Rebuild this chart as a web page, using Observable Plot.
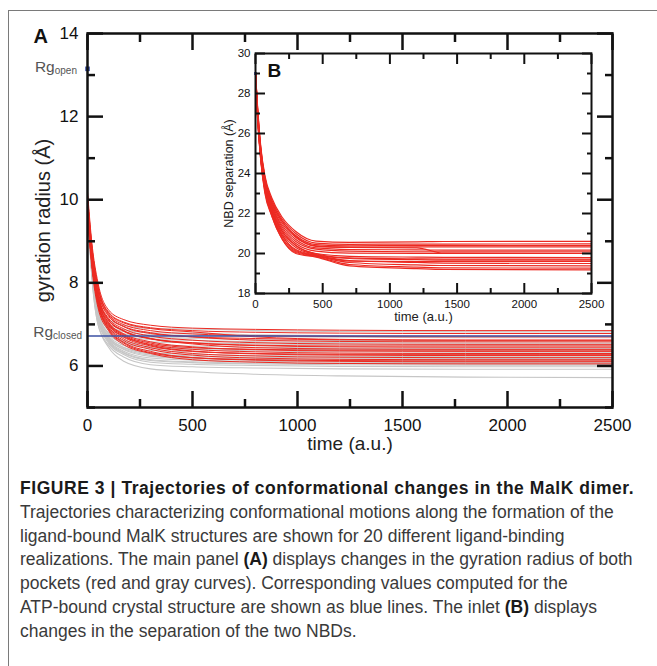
<!DOCTYPE html>
<html><head><meta charset="utf-8">
<script src="https://cdn.jsdelivr.net/npm/d3@7"></script>
<script src="https://cdn.jsdelivr.net/npm/@observablehq/plot@0.6"></script>
<style>
body{margin:0;background:#fff;}
#wrap{position:relative;width:657px;height:666px;overflow:hidden;font-family:"Liberation Sans",Arial,sans-serif;background:#fff;}
#frameTop{position:absolute;left:8px;top:10px;width:700px;height:0;border-top:1.5px solid #7a7a7a;}
#frameLeft{position:absolute;left:8px;top:10px;width:0;height:700px;border-left:1.5px solid #7a7a7a;}
#main{position:absolute;left:0;top:0;}
#inset{position:absolute;left:195px;top:40px;}
.rg{position:absolute;color:#555;font-size:15.5px;line-height:16px;text-align:right;white-space:nowrap;}
.rg sub{font-size:10px;vertical-align:baseline;position:relative;top:2px;}
#caption{position:absolute;left:20px;top:477px;font-family:"Liberation Sans",Arial,sans-serif;font-size:17.5px;line-height:23.8px;color:#3a3a3a;white-space:nowrap;}
#caption b{color:#1a1a1a;}
#caption b.head{letter-spacing:0.55px;}
</style></head>
<body><div id="wrap"><div id="frameTop"></div><div id="frameLeft"></div>
<div id="main"></div><div id="inset"></div>
<div id="caption"><b class="head">FIGURE 3 | Trajectories of conformational changes in the MalK dimer.</b><br>Trajectories characterizing conformational motions along the formation of the<br>ligand-bound MalK structures are shown for 20 different ligand-binding<br>realizations. The main panel <b>(A)</b> displays changes in the gyration radius of both<br>pockets (red and gray curves). Corresponding values computed for the<br>ATP-bound crystal structure are shown as blue lines. The inlet <b>(B)</b> displays<br>changes in the separation of the two NBDs.</div>
</div>
<script>
// ---------- data ----------
const T_MAIN = [0, 20, 50, 100, 170, 300, 500, 800, 1200, 1800, 2500];
const grayMain = [
 [10.1, 8.7, 7.6, 7.12, 6.98, 6.90, 6.89, 6.85, 6.83, 6.82, 6.82],
 [10.0, 8.6, 7.5, 7.02, 6.88, 6.80, 6.79, 6.75, 6.73, 6.72, 6.72],
 [10.0, 8.6, 7.5, 6.98, 6.83, 6.75, 6.74, 6.71, 6.69, 6.68, 6.68],
 [9.9, 8.5, 7.4, 6.90, 6.74, 6.64, 6.62, 6.58, 6.56, 6.55, 6.55],
 [9.9, 8.5, 7.4, 6.86, 6.69, 6.58, 6.56, 6.53, 6.51, 6.50, 6.50],
 [9.8, 8.4, 7.3, 6.80, 6.62, 6.51, 6.48, 6.45, 6.43, 6.42, 6.42],
 [9.8, 8.4, 7.3, 6.76, 6.55, 6.43, 6.40, 6.36, 6.34, 6.33, 6.33],
 [9.7, 8.3, 7.2, 6.72, 6.50, 6.37, 6.34, 6.30, 6.28, 6.27, 6.27],
 [9.7, 8.3, 7.2, 6.68, 6.45, 6.32, 6.28, 6.25, 6.23, 6.22, 6.22],
 [9.9, 8.4, 7.25, 6.70, 6.45, 6.29, 6.24, 6.21, 6.19, 6.18, 6.18],
 [10.0, 8.4, 7.2, 6.65, 6.40, 6.23, 6.18, 6.15, 6.13, 6.12, 6.12],
 [10.0, 8.4, 7.15, 6.62, 6.36, 6.19, 6.14, 6.11, 6.09, 6.08, 6.08],
 [9.8, 8.3, 7.1, 6.58, 6.31, 6.13, 6.08, 6.05, 6.03, 6.02, 6.02],
 [9.8, 8.3, 7.1, 6.55, 6.28, 6.09, 6.04, 6.01, 5.99, 5.98, 5.98],
 [9.7, 8.2, 7.0, 6.50, 6.22, 6.03, 5.98, 5.95, 5.93, 5.92, 5.92],
 [10.0, 8.2, 7.0, 6.45, 6.12, 5.93, 5.86, 5.80, 5.76, 5.73, 5.72],
 [10.0, 8.6, 7.5, 6.95, 6.78, 6.68, 6.67, 6.63, 6.61, 6.60, 6.60],
 [9.9, 8.4, 7.3, 6.78, 6.58, 6.46, 6.43, 6.40, 6.39, 6.38, 6.38],
 [9.8, 8.3, 7.2, 6.66, 6.42, 6.26, 6.20, 6.17, 6.16, 6.15, 6.15],
 [9.9, 8.3, 7.1, 6.60, 6.33, 6.15, 6.10, 6.07, 6.06, 6.05, 6.05]
];
const redMain = [
 [10.2, 9.0, 8.0, 7.35, 7.12, 6.98, 6.91, 6.88, 6.86, 6.85, 6.85],
 [10.1, 8.9, 7.9, 7.30, 7.06, 6.92, 6.85, 6.81, 6.79, 6.78, 6.78],
 [10.0, 8.9, 7.9, 7.25, 7.00, 6.85, 6.77, 6.73, 6.71, 6.70, 6.70],
 [10.0, 8.8, 7.8, 7.20, 6.95, 6.78, 6.70, 6.66, 6.63, 6.62, 6.62],
 [10.0, 8.8, 7.8, 7.22, 6.96, 6.80, 6.70, 6.62, 6.59, 6.58, 6.58],
 [9.9, 8.7, 7.7, 7.15, 6.90, 6.72, 6.62, 6.56, 6.53, 6.52, 6.52],
 [9.9, 8.7, 7.7, 7.10, 6.84, 6.65, 6.55, 6.49, 6.46, 6.45, 6.45],
 [9.9, 8.7, 7.7, 7.12, 6.86, 6.66, 6.53, 6.44, 6.41, 6.40, 6.40],
 [9.8, 8.6, 7.6, 7.05, 6.78, 6.58, 6.46, 6.39, 6.36, 6.35, 6.35],
 [9.8, 8.6, 7.6, 7.00, 6.72, 6.52, 6.40, 6.34, 6.31, 6.30, 6.30],
 [9.8, 8.6, 7.6, 7.02, 6.74, 6.50, 6.36, 6.29, 6.26, 6.25, 6.25],
 [9.7, 8.5, 7.5, 6.95, 6.66, 6.44, 6.30, 6.24, 6.21, 6.20, 6.20],
 [9.7, 8.5, 7.5, 6.92, 6.62, 6.40, 6.26, 6.19, 6.16, 6.15, 6.15],
 [9.7, 8.5, 7.5, 6.90, 6.58, 6.35, 6.20, 6.14, 6.11, 6.10, 6.10],
 [9.6, 8.4, 7.4, 6.85, 6.52, 6.30, 6.15, 6.09, 6.06, 6.05, 6.05],
 [10.1, 8.9, 7.9, 7.28, 7.04, 6.90, 6.82, 6.70, 6.64, 6.62, 6.62],
 [9.9, 8.7, 7.7, 7.10, 6.85, 6.66, 6.56, 6.50, 6.48, 6.48, 6.48],
 [9.8, 8.6, 7.6, 7.05, 6.76, 6.55, 6.44, 6.40, 6.38, 6.38, 6.38],
 [9.8, 8.6, 7.5, 6.98, 6.70, 6.48, 6.35, 6.30, 6.28, 6.28, 6.28],
 [9.7, 8.5, 7.5, 6.88, 6.56, 6.32, 6.20, 6.15, 6.13, 6.12, 6.12]
];
const RG_OPEN = 13.15;
const RG_CLOSED = 6.72;

const T_INSET = [0, 15, 40, 70, 120, 200, 300, 450, 700, 1200, 1400, 2500];
const redInset = [
 [29.0, 27.4, 25.3, 23.9, 22.8, 21.8, 21.1, 20.62, 20.56, 20.58, 20.60, 20.61],
 [29.0, 27.3, 25.2, 23.8, 22.7, 21.7, 21.0, 20.52, 20.46, 20.47, 20.47, 20.48],
 [29.0, 27.3, 25.2, 23.8, 22.6, 21.6, 20.9, 20.44, 20.38, 20.40, 20.40, 20.40],
 [29.0, 27.2, 25.1, 23.7, 22.5, 21.5, 20.8, 20.38, 20.32, 20.33, 20.33, 20.33],
 [29.0, 27.2, 25.1, 23.7, 22.6, 21.6, 20.85, 20.36, 20.30, 20.28, 20.02, 20.00],
 [29.0, 27.1, 25.0, 23.6, 22.4, 21.3, 20.6, 20.22, 20.12, 20.08, 20.08, 20.08],
 [29.0, 27.1, 25.0, 23.5, 22.3, 21.2, 20.5, 20.12, 20.02, 20.00, 20.00, 20.00],
 [29.0, 27.0, 24.9, 23.4, 22.2, 21.1, 20.4, 20.00, 19.86, 19.82, 19.81, 19.80],
 [29.0, 27.0, 24.8, 23.3, 22.1, 21.0, 20.3, 19.95, 19.75, 19.69, 19.67, 19.67],
 [29.0, 26.9, 24.7, 23.2, 22.0, 20.9, 20.2, 19.92, 19.65, 19.55, 19.52, 19.50],
 [29.0, 26.9, 24.7, 23.2, 22.0, 20.8, 20.1, 19.88, 19.55, 19.43, 19.40, 19.38],
 [29.0, 26.8, 24.6, 23.1, 21.9, 20.7, 20.05, 19.85, 19.45, 19.32, 19.28, 19.27],
 [29.0, 26.8, 24.6, 23.0, 21.9, 20.7, 20.0, 19.82, 19.38, 19.24, 19.20, 19.18],
 [29.0, 27.1, 25.0, 23.6, 22.4, 21.4, 20.7, 20.28, 20.20, 20.18, 20.17, 20.17],
 [29.0, 27.0, 24.9, 23.4, 22.2, 21.1, 20.4, 19.98, 19.78, 19.73, 19.72, 19.72],
 [29.0, 26.9, 24.7, 23.2, 22.0, 20.9, 20.15, 19.90, 19.62, 19.59, 19.60, 19.60]
];
const NBD_OPEN = 29.0;

const xMajorMain = [0, 500, 1000, 1500, 2000, 2500];
const xMinorMain = [250, 750, 1250, 1750, 2250];
const yMajorMain = [6, 8, 10, 12, 14];
const yMinorMain = [5, 7, 9, 11, 13];
const xMajorInset = [0, 500, 1000, 1500, 2000, 2500];
const xMinorInset = [250, 750, 1250, 1750, 2250];
const yMajorInset = [18, 20, 22, 24, 26, 28, 30];
const yMinorInset = [19, 21, 23, 25, 27, 29];

// ---------- tables ----------
function toTable(series, times, group) {
  const rows = [];
  series.forEach((s, i) => s.forEach((v, j) => rows.push({id: group + i, t: times[j], v})));
  return rows;
}
const grayRows = toTable(grayMain, T_MAIN, "g");
const redRows = toTable(redMain, T_MAIN, "r");
const insetRows = toTable(redInset, T_INSET, "n");

const BLUE = "#3b50a3", RED = "#ec2a22", GRAY = "#c6c6c6", INK = "#111";
const fmt = d => String(d);

function tickAxes(axisFn, anchor, major, minor, len, sw) {
  const off = (l) => (anchor === "bottom" ? {dy: -l} : anchor === "top" ? {dy: l} : anchor === "left" ? {dx: l} : {dx: -l});
  return [
    axisFn({anchor, ticks: major, tickSize: len, fill: "none", stroke: INK, strokeWidth: sw, label: null, ...off(len)}),
    axisFn({anchor, ticks: minor, tickSize: len / 2, fill: "none", stroke: INK, strokeWidth: sw, label: null, ...off(len / 2)})
  ];
}

// ---------- main panel ----------
const main = Plot.plot({
  width: 657, height: 460,
  marginLeft: 87, marginRight: 45, marginTop: 33, marginBottom: 53,
  style: {fontFamily: "Liberation Sans, Arial, sans-serif", background: "transparent", color: INK, overflow: "visible"},
  x: {domain: [0, 2500]},
  y: {domain: [5, 14]},
  marks: [
    Plot.line(grayRows, {x: "t", y: "v", z: "id", stroke: GRAY, strokeWidth: 1.1, curve: "monotone-x"}),
    Plot.line(redRows, {x: "t", y: "v", z: "id", stroke: RED, strokeWidth: 1.0, curve: "monotone-x"}),
    Plot.ruleY([RG_CLOSED], {stroke: BLUE, strokeWidth: 1.6}),
    Plot.dot([{t: 0, v: RG_OPEN}], {x: "t", y: "v", symbol: "square", r: 2.6, fill: BLUE}),
    ...tickAxes(Plot.axisX, "bottom", xMajorMain, xMinorMain, 16, 2.5),
    ...tickAxes(Plot.axisX, "top", xMajorMain, xMinorMain, 16, 2.5),
    ...tickAxes(Plot.axisY, "left", yMajorMain, yMinorMain, 16, 2.5),
    ...tickAxes(Plot.axisY, "right", yMajorMain, yMinorMain, 16, 2.5),
    Plot.axisX({anchor: "bottom", ticks: xMajorMain, tickFormat: fmt, tickSize: 0, tickPadding: 11, fontSize: 17, label: null}),
    Plot.axisY({anchor: "left", ticks: yMajorMain, tickFormat: fmt, tickSize: 0, tickPadding: 9, fontSize: 17, label: null}),
    Plot.frame({stroke: INK, strokeWidth: 2.5}),
    Plot.text(["time (a.u.)"], {frameAnchor: "bottom", dy: 42, fontSize: 19, fill: "#222"}),
    Plot.text(["gyration radius (Å)"], {frameAnchor: "left", rotate: -90, dx: -44, fontSize: 20, textAnchor: "middle", lineAnchor: "middle", fill: "#222"}),
    Plot.text(["A"], {frameAnchor: "top-left", dx: -54, dy: -5, fontSize: 20, fontWeight: "bold", textAnchor: "start", fill: INK})
  ]
});
document.getElementById("main").appendChild(main);

// ---------- inset ----------
const inset = Plot.plot({
  width: 410, height: 290,
  marginLeft: 60, marginRight: 14, marginTop: 13, marginBottom: 37,
  style: {fontFamily: "Liberation Sans, Arial, sans-serif", background: "transparent", color: INK, overflow: "visible"},
  x: {domain: [0, 2500]},
  y: {domain: [18, 30]},
  marks: [
    Plot.frame({fill: "white", stroke: null}),
    Plot.line(insetRows, {x: "t", y: "v", z: "id", stroke: RED, strokeWidth: 1.2, curve: "monotone-x"}),
    Plot.dot([{t: 0, v: NBD_OPEN}], {x: "t", y: "v", symbol: "square", r: 1.6, fill: BLUE}),
    ...tickAxes(Plot.axisX, "bottom", xMajorInset, xMinorInset, 10, 2),
    ...tickAxes(Plot.axisX, "top", xMajorInset, xMinorInset, 10, 2),
    ...tickAxes(Plot.axisY, "left", yMajorInset, yMinorInset, 10, 2),
    ...tickAxes(Plot.axisY, "right", yMajorInset, yMinorInset, 10, 2),
    Plot.axisX({anchor: "bottom", ticks: xMajorInset, tickFormat: fmt, tickSize: 0, tickPadding: 6, fontSize: 11.5, label: null}),
    Plot.axisY({anchor: "left", ticks: yMajorInset, tickFormat: fmt, tickSize: 0, tickPadding: 5, fontSize: 11.5, label: null}),
    Plot.frame({stroke: INK, strokeWidth: 2}),
    Plot.text(["time (a.u.)"], {frameAnchor: "bottom", dy: 27, fontSize: 13, fill: "#222"}),
    Plot.text(["NBD separation (Å)"], {frameAnchor: "left", rotate: -90, dx: -27, fontSize: 12.5, textAnchor: "middle", lineAnchor: "middle", fill: "#222"}),
    Plot.text(["B"], {frameAnchor: "top-left", dx: 12, dy: 10, fontSize: 19, fontWeight: "bold", textAnchor: "start", fill: INK})
  ]
});
document.getElementById("inset").appendChild(inset);

// ---------- Rg labels positioned from the main y scale ----------
const ys = main.scale("y");
function rgLabel(sub, value, rightEdge, shift) {
  const d = document.createElement("div");
  d.className = "rg";
  d.innerHTML = "Rg<sub>" + sub + "</sub>";
  d.style.right = (657 - rightEdge) + "px";
  d.style.top = (ys.apply(value) - 9 + shift) + "px";
  document.getElementById("wrap").appendChild(d);
}
rgLabel("open", RG_OPEN, 77, 0);
rgLabel("closed", RG_CLOSED, 82, -3);
</script>
</body></html>
